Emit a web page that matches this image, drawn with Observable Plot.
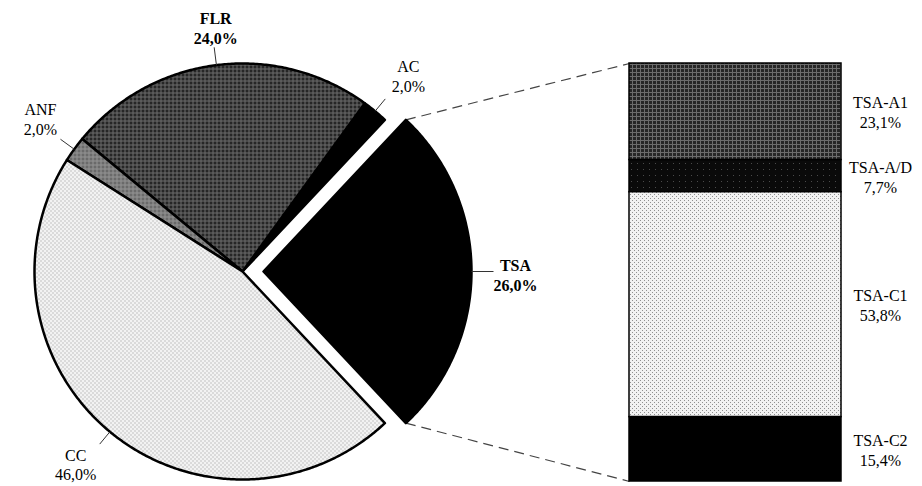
<!DOCTYPE html>
<html>
<head>
<meta charset="utf-8">
<script src="https://cdn.jsdelivr.net/npm/d3@7"></script>
<script src="https://cdn.jsdelivr.net/npm/@observablehq/plot@0.6"></script>
<style>
  html, body { margin: 0; padding: 0; background: #ffffff; }
  #chart { width: 922px; height: 486px; }
</style>
</head>
<body>
<div id="chart"></div>
<script>
// ---- Data ----
const pieCategories = ["TSA", "AC", "FLR", "ANF", "CC"];
const piePercents   = [26.0, 2.0, 24.0, 2.0, 46.0];
const barCategories = ["TSA-A1", "TSA-A/D", "TSA-C1", "TSA-C2"];
const barPercents   = [23.1, 7.7, 53.8, 15.4];

// ---- Styles ----
const pieFill = {TSA: "#000000", AC: "#000000", FLR: "url(#hatch)", ANF: "url(#hatchMid)", CC: "url(#dots)"};
const barFill = {"TSA-A1": "url(#hatch)", "TSA-A/D": "url(#darkDots)", "TSA-C1": "url(#dots)", "TSA-C2": "#000000"};
const boldLabels = new Set(["FLR", "TSA"]);

// ---- Layout ----
const W = 922, H = 486;
const cx = 242, cy = 271, R = 208, explode = 21;
const barX1 = 629, barX2 = 841, barTop = 63, barBottom = 481, barLabelGap = 39;
const leaderLen = {TSA: 22, AC: 16, FLR: 18, ANF: 17, CC: 16};
const labelOffset = {TSA: [22, 3], AC: [23, -23], FLR: [1.5, -20], ANF: [-20, -21], CC: [-24, 20]};

const fmt = v => v.toFixed(1).replace(".", ",") + "%";
const total = d3.sum(piePercents);
const startAngle = -piePercents[0] / total * Math.PI; // TSA centred on the right

// slices
const slices = [];
let acc = 0;
pieCategories.forEach((name, i) => {
  const a0 = startAngle + acc / total * 2 * Math.PI;
  acc += piePercents[i];
  const a1 = startAngle + acc / total * 2 * Math.PI;
  const mid = (a0 + a1) / 2;
  const off = i === 0 ? explode : 0;
  const ox = cx + off * Math.cos(mid), oy = cy - off * Math.sin(mid);
  slices.push({name, value: piePercents[i], a0, a1, mid, ox, oy});
});

const piePts = [];
for (const s of slices) {
  piePts.push({name: s.name, x: s.ox, y: s.oy});
  const n = Math.max(2, Math.ceil((s.a1 - s.a0) / (Math.PI / 360)));
  for (let k = 0; k <= n; k++) {
    const a = s.a0 + (s.a1 - s.a0) * k / n;
    piePts.push({name: s.name, x: s.ox + R * Math.cos(a), y: s.oy - R * Math.sin(a)});
  }
}

const leaders = slices.map(s => ({
  name: s.name,
  x1: s.ox + R * Math.cos(s.mid), y1: s.oy - R * Math.sin(s.mid),
  x2: s.ox + (R + leaderLen[s.name]) * Math.cos(s.mid), y2: s.oy - (R + leaderLen[s.name]) * Math.sin(s.mid)
}));
const pieLabels = leaders.map((l, i) => ({
  name: l.name,
  x: l.x2 + labelOffset[l.name][0],
  y: l.y2 + labelOffset[l.name][1],
  text: l.name + "\n" + fmt(slices[i].value)
}));

// bar segments
const barTotal = d3.sum(barPercents);
const cum = [0, ...d3.cumsum(barPercents)];
const ys = v => barTop + v / barTotal * (barBottom - barTop);
const barSegs = barCategories.map((name, i) => ({
  name, value: barPercents[i], y1: ys(cum[i]), y2: ys(cum[i + 1])
}));
const barLabels = barSegs.map(s => ({x: barX2 + barLabelGap, y: (s.y1 + s.y2) / 2, text: s.name + "\n" + fmt(s.value)}));

// connectors from exploded slice tips to bar corners
const tsa = slices[0];
const connectors = [
  {x1: tsa.ox + R * Math.cos(tsa.a1), y1: tsa.oy - R * Math.sin(tsa.a1), x2: barX1, y2: ys(0)},
  {x1: tsa.ox + R * Math.cos(tsa.a0), y1: tsa.oy - R * Math.sin(tsa.a0), x2: barX1, y2: ys(barTotal)}
];

const svg = Plot.plot({
  width: W, height: H, margin: 0,
  x: {domain: [0, W], range: [0, W], axis: null},
  y: {domain: [0, H], range: [0, H], axis: null},
  color: {type: "identity"},
  style: {fontFamily: "'Liberation Serif', 'Times New Roman', serif", fontSize: "16px", background: "#ffffff", color: "#000"},
  marks: [
    Plot.link(connectors, {x1: "x1", y1: "y1", x2: "x2", y2: "y2", stroke: "#444", strokeWidth: 1.2, strokeDasharray: "10,6"}),
    Plot.line(piePts, {x: "x", y: "y", z: "name", fill: d => pieFill[d.name], stroke: "#000", strokeWidth: 2.5, strokeLinejoin: "round", curve: "linear-closed"}),
    Plot.link(leaders, {x1: "x1", y1: "y1", x2: "x2", y2: "y2", stroke: "#333", strokeWidth: 1}),
    Plot.rect(barSegs, {x1: barX1, x2: barX2, y1: "y1", y2: "y2", fill: d => barFill[d.name], stroke: "#000", strokeWidth: 1.5}),
    Plot.text(pieLabels.filter(d => boldLabels.has(d.name)), {x: "x", y: "y", text: "text", fontSize: 16, fontWeight: "bold", lineHeight: 1.25, lineAnchor: "middle", fill: "#000"}),
    Plot.text(pieLabels.filter(d => !boldLabels.has(d.name)), {x: "x", y: "y", text: "text", fontSize: 16, lineHeight: 1.25, lineAnchor: "middle", fill: "#000"}),
    Plot.text(barLabels, {x: "x", y: "y", text: "text", fontSize: 16, lineHeight: 1.25, lineAnchor: "middle", fill: "#000"})
  ]
});

const defs = document.createElementNS("http://www.w3.org/2000/svg", "defs");
defs.innerHTML = `
  <pattern id="hatch" width="4" height="4" patternUnits="userSpaceOnUse">
    <rect width="4" height="4" fill="#262626"/>
    <path d="M0 0.5H4M0.5 0V4" stroke="#6c6c6c" stroke-width="1"/>
  </pattern>
  <pattern id="hatchMid" width="4" height="4" patternUnits="userSpaceOnUse">
    <rect width="4" height="4" fill="#6a6a6a"/>
    <path d="M0 0.5H4M0.5 0V4" stroke="#959595" stroke-width="1"/>
  </pattern>
  <pattern id="dots" width="4" height="4" patternUnits="userSpaceOnUse">
    <rect width="4" height="4" fill="#f2f2f2"/>
    <rect x="0" y="0" width="1" height="1" fill="#909090"/>
    <rect x="2" y="2" width="1" height="1" fill="#909090"/>
  </pattern>
  <pattern id="darkDots" width="6" height="6" patternUnits="userSpaceOnUse">
    <rect width="6" height="6" fill="#0a0a0a"/>
    <rect x="1" y="1" width="1" height="1" fill="#4a4a4a"/>
  </pattern>`;
svg.insertBefore(defs, svg.firstChild);
document.getElementById("chart").appendChild(svg);
</script>
</body>
</html>
